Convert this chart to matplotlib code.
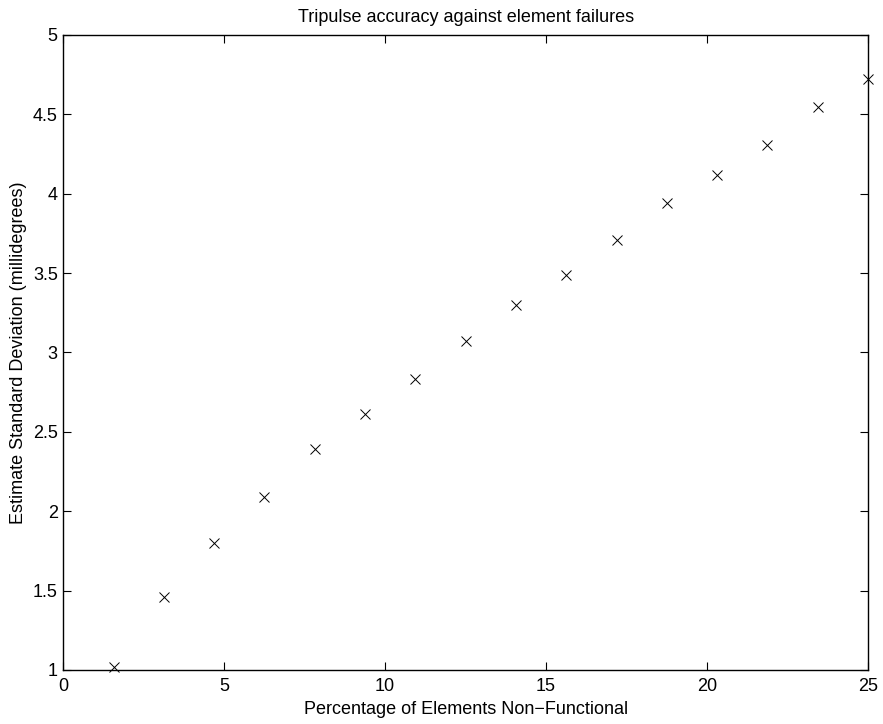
import matplotlib
matplotlib.use("Agg")
import matplotlib.pyplot as plt

plt.rcParams["font.family"] = ["Liberation Sans", "DejaVu Sans"]

# percentage of elements switched off, and the resulting estimate spread
pct_failed = [1.5625, 3.125, 4.6875, 6.25, 7.8125, 9.375, 10.9375, 12.5,
              14.0625, 15.625, 17.1875, 18.75, 20.3125, 21.875, 23.4375, 25.0]
std_mdeg = [1.02, 1.46, 1.80, 2.09, 2.39, 2.615, 2.83, 3.075,
            3.30, 3.49, 3.71, 3.94, 4.115, 4.305, 4.545, 4.725]

x_ticks = [0, 5, 10, 15, 20, 25]
y_ticks = [1, 1.5, 2, 2.5, 3, 3.5, 4, 4.5, 5]
y_ticklabels = ["1", "1.5", "2", "2.5", "3", "3.5", "4", "4.5", "5"]

fig = plt.figure(figsize=(8.83, 7.24), dpi=100)
ax = fig.add_axes([0.0717, 0.0746, 0.9113, 0.8771])

ax.plot(pct_failed, std_mdeg, linestyle="none", marker="x", color="black",
        markersize=6.5, markeredgewidth=0.7, clip_on=False)

ax.set_xlim(0, 25)
ax.set_ylim(1, 5)
ax.set_xticks(x_ticks)
ax.set_yticks(y_ticks)
ax.set_yticklabels(y_ticklabels)
ax.tick_params(direction="in", length=6, width=0.8, labelsize=13,
               top=True, right=True)
ax.tick_params(axis="x", pad=6)
ax.tick_params(axis="y", pad=4)
for s in ax.spines.values():
    s.set_linewidth(1.0)

ax.set_title("Tripulse accuracy against element failures", fontsize=13, pad=9)
ax.set_xlabel("Percentage of Elements Non\u2212Functional", fontsize=13, labelpad=4)
ax.set_ylabel("Estimate Standard Deviation (millidegrees)", fontsize=13, labelpad=4)

fig.savefig("out.png", dpi=100)
